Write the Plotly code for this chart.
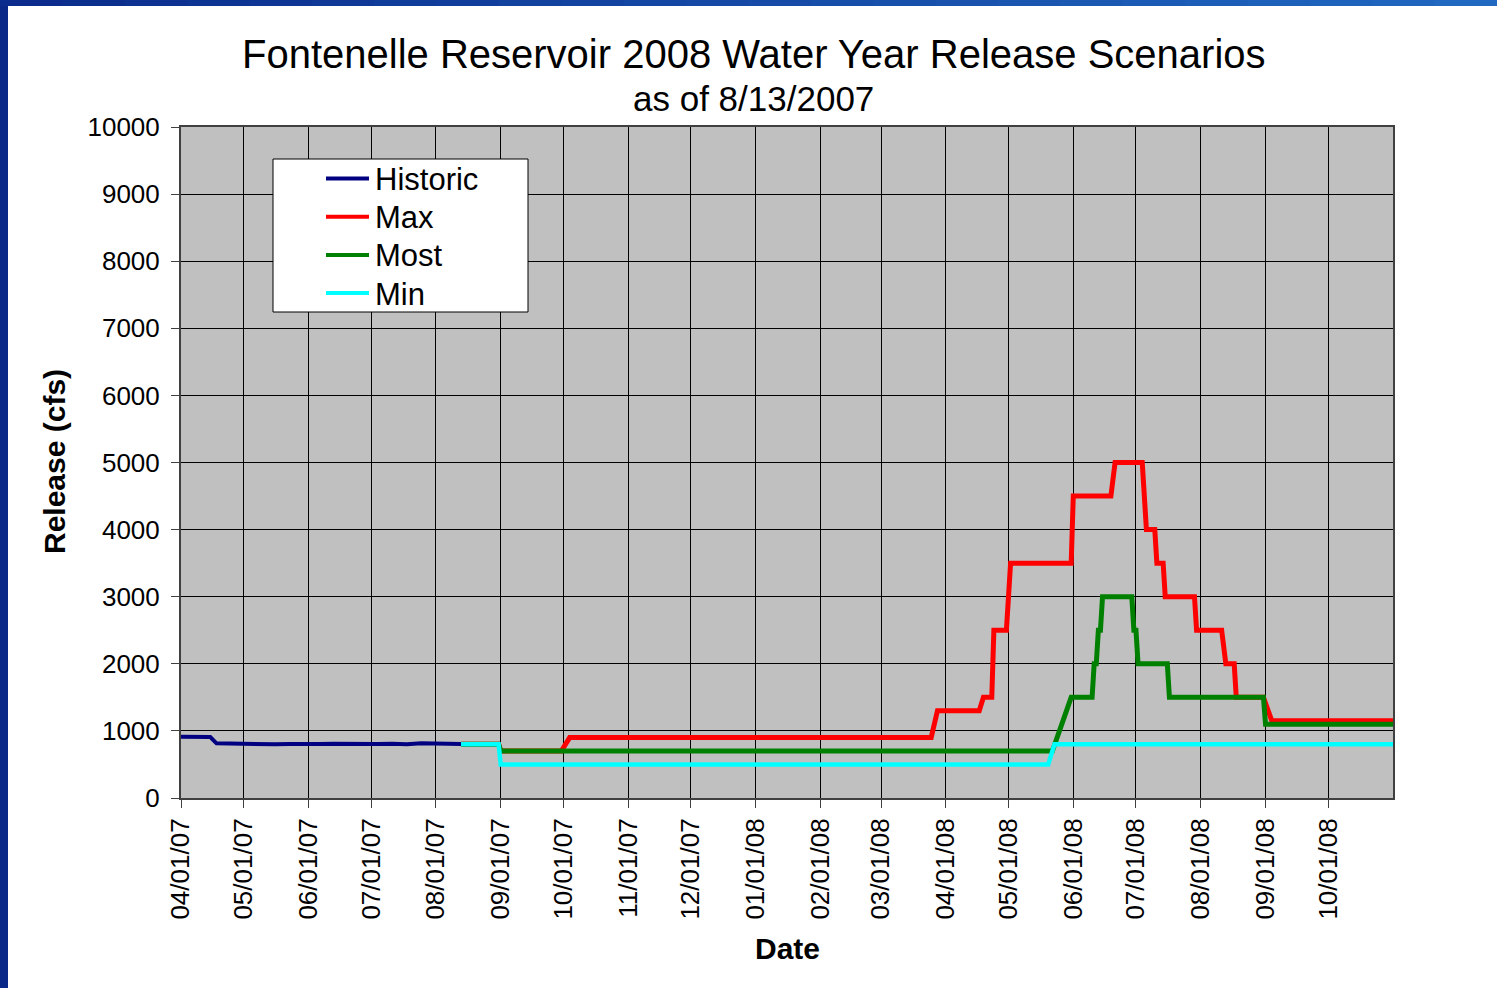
import plotly.graph_objects as go

# ---- data ----
historic_dates = [
    "2007-04-01", "2007-04-08", "2007-04-15", "2007-04-18", "2007-04-25",
    "2007-05-02", "2007-05-09", "2007-05-16", "2007-05-23", "2007-05-30",
    "2007-06-06", "2007-06-13", "2007-06-20", "2007-06-27", "2007-07-04",
    "2007-07-11", "2007-07-18", "2007-07-25", "2007-08-01", "2007-08-08",
    "2007-08-13",
]
historic_cfs = [913, 910, 908, 815, 810, 805, 810, 800, 805, 800,
                805, 810, 805, 800, 805, 810, 800, 815, 810, 815, 805]

max_dates = [
    "2007-08-13", "2007-08-31", "2007-09-01", "2007-09-30", "2007-10-04",
    "2008-03-25", "2008-03-28", "2008-04-17", "2008-04-19", "2008-04-23",
    "2008-04-24", "2008-04-30", "2008-05-02", "2008-05-31", "2008-06-01",
    "2008-06-19", "2008-06-21", "2008-07-04", "2008-07-06", "2008-07-10",
    "2008-07-11", "2008-07-14", "2008-07-15", "2008-07-29", "2008-07-30",
    "2008-08-11", "2008-08-13", "2008-08-17", "2008-08-18", "2008-08-31",
    "2008-09-04", "2008-11-01",
]
max_cfs = [800, 800, 700, 700, 900, 900, 1300, 1300, 1500, 1500,
           2500, 2500, 3500, 3500, 4500, 4500, 5000, 5000, 4000, 4000,
           3500, 3500, 3000, 3000, 2500, 2500, 2000, 2000, 1500, 1500,
           1150, 1150]

most_dates = [
    "2007-08-13", "2007-08-31", "2007-09-01", "2008-05-22", "2008-05-31",
    "2008-06-10", "2008-06-11", "2008-06-12", "2008-06-13", "2008-06-14",
    "2008-06-15", "2008-06-29", "2008-06-30", "2008-07-01", "2008-07-02",
    "2008-07-16", "2008-07-17", "2008-08-31", "2008-09-01", "2008-11-01",
]
most_cfs = [800, 800, 700, 700, 1500, 1500, 2000, 2000, 2500, 2500,
            3000, 3000, 2500, 2500, 2000, 2000, 1500, 1500, 1100, 1100]

min_dates = ["2007-08-13", "2007-08-31", "2007-09-01", "2008-05-20",
             "2008-05-23", "2008-11-01"]
min_cfs = [800, 800, 500, 500, 800, 800]

month_ticks = [
    "2007-04-01", "2007-05-01", "2007-06-01", "2007-07-01", "2007-08-01",
    "2007-09-01", "2007-10-01", "2007-11-01", "2007-12-01", "2008-01-01",
    "2008-02-01", "2008-03-01", "2008-04-01", "2008-05-01", "2008-06-01",
    "2008-07-01", "2008-08-01", "2008-09-01", "2008-10-01",
]
month_labels = [
    "04/01/07", "05/01/07", "06/01/07", "07/01/07", "08/01/07", "09/01/07",
    "10/01/07", "11/01/07", "12/01/07", "01/01/08", "02/01/08", "03/01/08",
    "04/01/08", "05/01/08", "06/01/08", "07/01/08", "08/01/08", "09/01/08",
    "10/01/08",
]

FONT = "Arial, Liberation Sans, sans-serif"
W, H = 1497, 988
L, R, T, B = 181, 1393, 127, 798  # plot area in pixels


def px(x):
    return (x - L) / (R - L)


def py(y):
    return (B - y) / (B - T)


fig = go.Figure()

series = [
    ("Historic", historic_dates, historic_cfs, "#000080", 4),
    ("Max", max_dates, max_cfs, "#FF0000", 5),
    ("Most", most_dates, most_cfs, "#008000", 5),
    ("Min", min_dates, min_cfs, "#00FFFF", 4.5),
]
for name, x, y, color, lw in series:
    fig.add_trace(
        go.Scatter(
            x=x,
            y=y,
            mode="lines",
            name=name,
            line=dict(color=color, width=lw),
            showlegend=False,
        )
    )

# slide frame: left bar and top bar with a blue gradient
shapes = [
    dict(type="rect", xref="paper", yref="paper", layer="above",
         x0=px(0), x1=px(8), y0=py(H), y1=py(0),
         fillcolor="#0A2887", line_width=0)
]
n_seg = 24
c0, c1 = (11, 44, 140), (32, 104, 192)
for i in range(n_seg):
    t = i / (n_seg - 1)
    col = "rgb(%d,%d,%d)" % tuple(round(a + (b - a) * t) for a, b in zip(c0, c1))
    shapes.append(
        dict(type="rect", xref="paper", yref="paper", layer="above",
             x0=px(W * i / n_seg), x1=px(W * (i + 1) / n_seg + 1),
             y0=py(6), y1=py(0), fillcolor=col, line_width=0)
    )

# legend drawn by hand (box, line samples, names)
shapes.append(
    dict(type="rect", xref="paper", yref="paper", layer="above",
         x0=px(273), x1=px(528), y0=py(312), y1=py(159),
         fillcolor="white", line=dict(color="black", width=1))
)
annotations = []
for i, (name, _, _, color, _) in enumerate(series):
    yy = 178.5 + 38.2 * i
    shapes.append(
        dict(type="line", xref="paper", yref="paper", layer="above",
             x0=px(326), x1=px(369), y0=py(yy), y1=py(yy),
             line=dict(color=color, width=4))
    )
    annotations.append(
        dict(text=name, x=px(373), y=py(yy + 1), xanchor="left",
             font=dict(size=31))
    )

annotations += [
    dict(text="Fontenelle Reservoir 2008 Water Year Release Scenarios",
         x=px(753.5), y=py(54), font=dict(size=40)),
    dict(text="as of 8/13/2007", x=px(753.5), y=py(99), font=dict(size=35)),
    dict(text="<b>Date</b>", x=px(787), y=py(948), font=dict(size=30)),
    dict(text="<b>Release (cfs)</b>", x=px(54), y=py(462), textangle=-90,
         font=dict(size=30)),
]
for a in annotations:
    a.setdefault("xanchor", "center")
    a.update(xref="paper", yref="paper", showarrow=False, yanchor="middle")

axis_style = dict(
    tickmode="array",
    tickfont=dict(size=26),
    ticks="outside",
    ticklen=8,
    tickcolor="#404040",
    showgrid=True,
    gridcolor="black",
    gridwidth=1,
    showline=True,
    linecolor="#404040",
    linewidth=2,
    mirror=True,
    zeroline=False,
)

fig.update_layout(
    width=W,
    height=H,
    margin=dict(l=L, r=W - R, t=T, b=H - B, pad=0),
    paper_bgcolor="white",
    plot_bgcolor="#C0C0C0",
    font=dict(family=FONT, color="black"),
    shapes=shapes,
    annotations=annotations,
    showlegend=False,
    xaxis=dict(
        type="date",
        range=["2007-04-01", "2008-11-01"],
        tickvals=month_ticks,
        ticktext=month_labels,
        tickangle=-90,
        **axis_style,
    ),
    yaxis=dict(
        range=[0, 10000],
        tickvals=list(range(0, 10001, 1000)),
        ticktext=[str(v) for v in range(0, 10001, 1000)],
        ticklabelstandoff=6,
        **axis_style,
    ),
)

fig.write_html(
    "out.html",
    config={"displayModeBar": False},
    post_script="document.body.style.margin='0';",
)
